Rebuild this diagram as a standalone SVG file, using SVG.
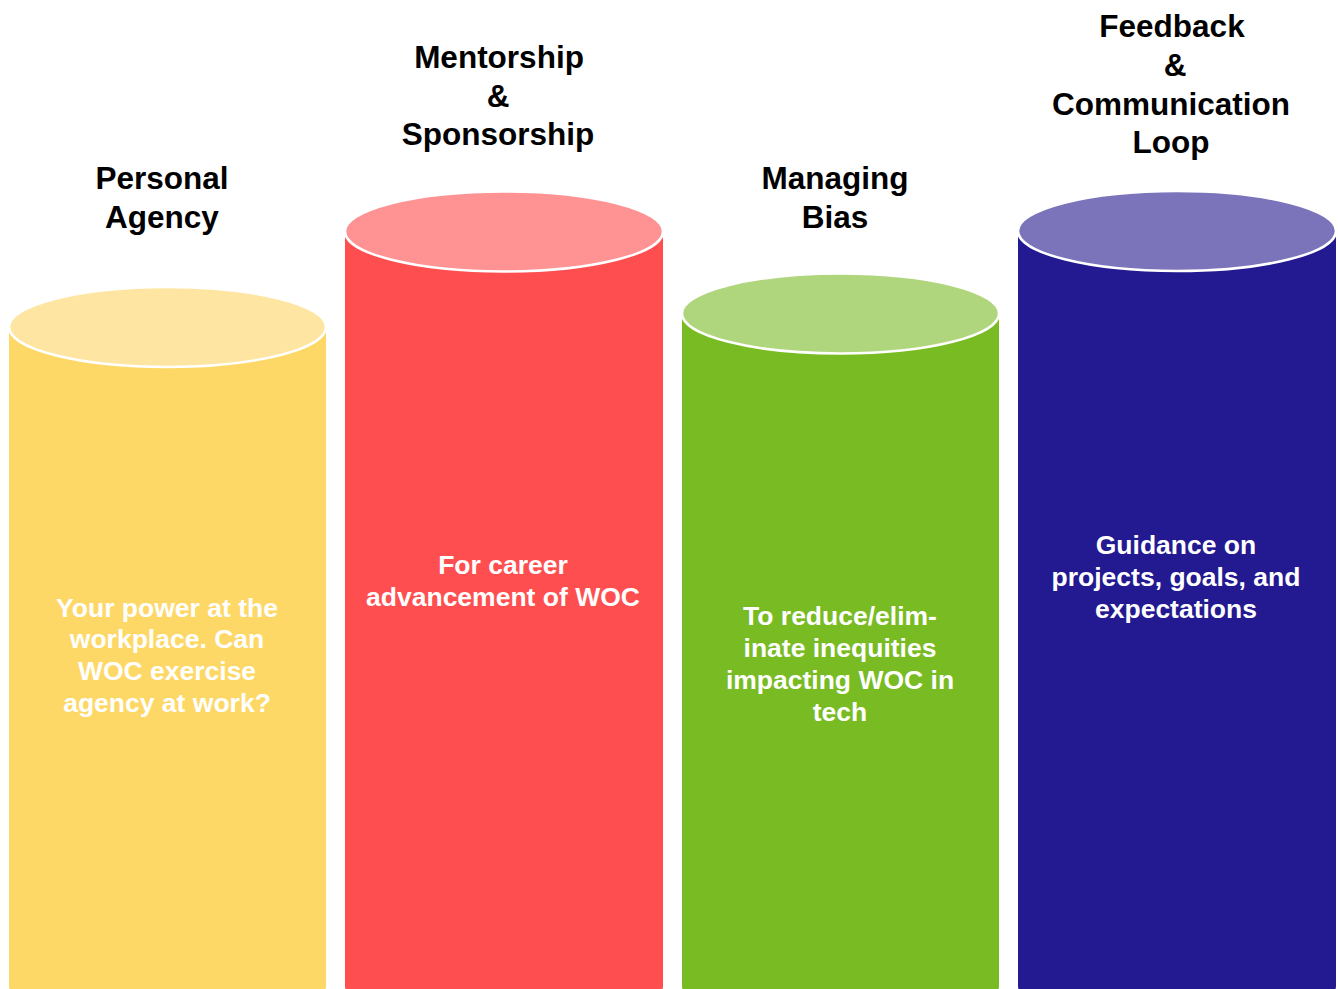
<svg xmlns="http://www.w3.org/2000/svg" width="1338" height="989" viewBox="0 0 1338 989">
  <style>
    .title { font-family: "Liberation Sans", Arial, Helvetica, sans-serif; font-weight: bold; font-size: 31.5px; fill: #000; text-anchor: middle; }
    .body  { font-family: "Liberation Sans", Arial, Helvetica, sans-serif; font-weight: bold; font-size: 26.5px; fill: #fff; text-anchor: middle; }
    .cap   { stroke: #fff; stroke-width: 2.5; }
  </style>
  <rect width="1338" height="989" fill="#fff"/>

  <!-- Pillar 1: Personal Agency -->
  <g id="personal-agency">
    <path d="M9,327 L9,986 A158.5,40 0 0 0 326,986 L326,327 Z" fill="#FED866"/>
    <ellipse class="cap" cx="167.5" cy="327" rx="158.5" ry="40" fill="#FEE5A2"/>
    <text class="title" x="162"><tspan x="162" y="189">Personal</tspan><tspan x="162" y="227.5">Agency</tspan></text>
    <text class="body"><tspan x="167" y="616.5">Your power at the</tspan><tspan x="167" y="648">workplace. Can</tspan><tspan x="167" y="680">WOC exercise</tspan><tspan x="167" y="711.5">agency at work?</tspan></text>
  </g>

  <!-- Pillar 2: Mentorship & Sponsorship -->
  <g id="mentorship-sponsorship">
    <path d="M345,231.5 L345,986 A159,40 0 0 0 663,986 L663,231.5 Z" fill="#FF4E50"/>
    <ellipse class="cap" cx="504" cy="231.5" rx="159" ry="40" fill="#FF9393"/>
    <text class="title"><tspan x="499" y="68">Mentorship</tspan><tspan x="498" y="106.5">&amp;</tspan><tspan x="498" y="145">Sponsorship</tspan></text>
    <text class="body"><tspan x="503" y="574">For career</tspan><tspan x="503" y="606">advancement of WOC</tspan></text>
  </g>

  <!-- Pillar 3: Managing Bias -->
  <g id="managing-bias">
    <path d="M682,313.5 L682,986 A158.5,40 0 0 0 999,986 L999,313.5 Z" fill="#78BB22"/>
    <ellipse class="cap" cx="840.5" cy="313.5" rx="158.5" ry="40" fill="#B0D67D"/>
    <text class="title"><tspan x="835" y="189">Managing</tspan><tspan x="835" y="227.5">Bias</tspan></text>
    <text class="body"><tspan x="840" y="625">To reduce/elim-</tspan><tspan x="840" y="657">inate inequities</tspan><tspan x="840" y="689">impacting WOC in</tspan><tspan x="840" y="720.5">tech</tspan></text>
  </g>

  <!-- Pillar 4: Feedback & Communication Loop -->
  <g id="feedback-communication">
    <path d="M1018,231 L1018,986 A159,40 0 0 0 1336,986 L1336,231 Z" fill="#231990"/>
    <ellipse class="cap" cx="1177" cy="231" rx="159" ry="40" fill="#7B74BB"/>
    <text class="title"><tspan x="1172" y="37">Feedback</tspan><tspan x="1175" y="75.5">&amp;</tspan><tspan x="1171" y="114.5">Communication</tspan><tspan x="1171" y="153">Loop</tspan></text>
    <text class="body"><tspan x="1176" y="554">Guidance on</tspan><tspan x="1176" y="586">projects, goals, and</tspan><tspan x="1176" y="618">expectations</tspan></text>
  </g>

  <!-- no connectors in this chart -->
  <g id="connectors"/>
</svg>
